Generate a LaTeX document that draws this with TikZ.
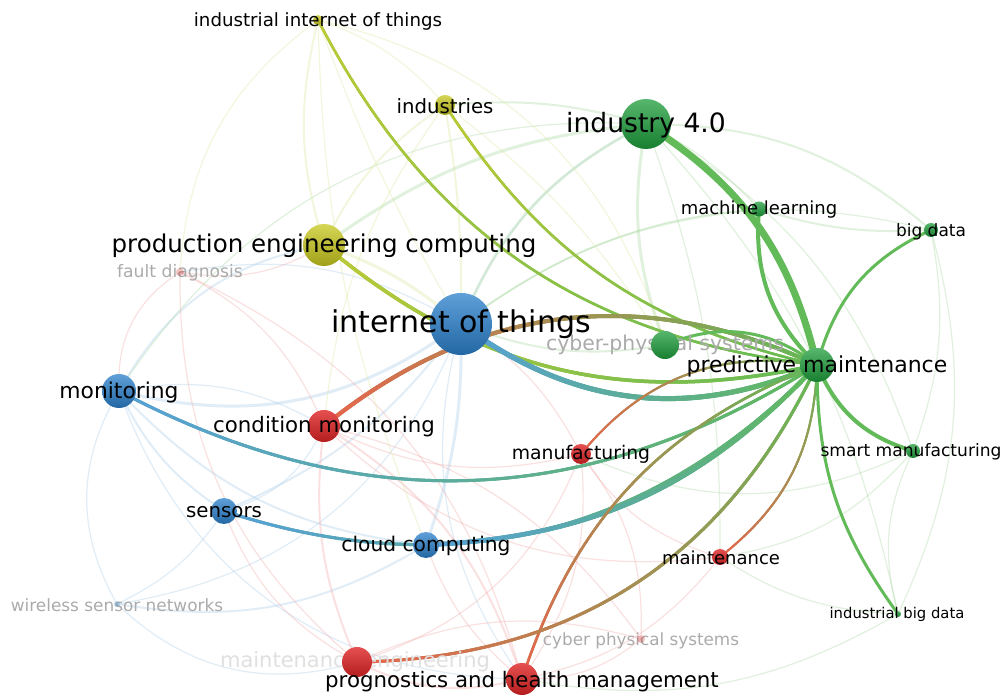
\documentclass[tikz,border=0pt]{standalone}
\usepackage{fontspec}
\setmainfont{DejaVu Sans}
\usetikzlibrary{decorations.markings}
\pgfdeclarelayer{bg}
\pgfdeclarelayer{mid}
\pgfsetlayers{bg,mid,main}
\definecolor{cyel}{HTML}{C8C81E}
\definecolor{cgrn}{HTML}{1E9E3C}
\definecolor{cblu}{HTML}{2A80CC}
\definecolor{cred}{HTML}{E02424}
\definecolor{ey}{HTML}{BCCA36}
\definecolor{eg}{HTML}{62BA58}
\definecolor{eb}{HTML}{56A0D8}
\definecolor{er}{HTML}{E8644C}
\definecolor{fblu}{HTML}{A8CCEA}
\definecolor{fred}{HTML}{F2A8A8}
\definecolor{fgrn}{HTML}{A8D8A0}
\definecolor{fyel}{HTML}{DCE8A0}
\definecolor{fadetxt}{HTML}{ABABAB}
\newcommand\fsz[1]{\fontsize{#1}{#1}\selectfont}
\tikzset{grad/.style n args={3}{postaction={decorate,decoration={markings,
  mark=between positions 0 and 1 step 2.5pt with {%
    \pgfmathtruncatemacro\gp{(\pgfkeysvalueof{/pgf/decoration/mark info/distance from start})/(\pgfdecoratedpathlength)*100}%
    \draw[line width=#3,color=#2!\gp!#1] (-1.5pt,0) -- (1.5pt,0);}}}}}
\begin{document}
\begin{tikzpicture}[x=1pt,y=1pt,
  kw/.style={circle,inner sep=0pt,minimum size=#1,draw=none},
  yel/.style={top color=cyel!75!white,bottom color=cyel!80!black},
  grn/.style={top color=cgrn!75!white,bottom color=cgrn!80!black},
  blu/.style={top color=cblu!75!white,bottom color=cblu!80!black},
  red/.style={top color=cred!80!white,bottom color=cred!80!black},
  lbl/.style={inner sep=0pt,anchor=center,text=black},
  flbl/.style={inner sep=0pt,anchor=center,text=fadetxt},
  e/.style={line cap=round},
  fe/.style={line cap=round,draw opacity=0.35,line width=1.2pt}]
\useasboundingbox (0,0) rectangle (1007,696);

% nodes (circles)
\node[kw=10pt,yel] (iiot) at (318,676) {};
\node[kw=20pt,yel] (ind) at (445,591) {};
\node[kw=50pt,grn] (i40) at (646,572) {};
\node[kw=15pt,grn] (ml) at (759,487) {};
\node[kw=14pt,grn] (bd) at (931,466) {};
\node[kw=42pt,yel] (pec) at (324,451) {};
\node[kw=8pt,red,opacity=0.3] (fd) at (180,424) {};
\node[kw=62pt,blu] (iot) at (461,372) {};
\node[kw=28pt,grn] (cps) at (665,351) {};
\node[kw=34pt,grn] (pm) at (817,331) {};
\node[kw=34pt,blu] (mon) at (119,305) {};
\node[kw=32pt,red] (cm) at (324,270) {};
\node[kw=20pt,red] (manu) at (581,242) {};
\node[kw=14pt,grn] (sm) at (913,245) {};
\node[kw=26pt,blu] (sen) at (224,185) {};
\node[kw=26pt,blu] (cc) at (426,151) {};
\node[kw=16pt,red] (maint) at (720,139) {};
\node[kw=6pt,blu,opacity=0.3] (wsn) at (117,92) {};
\node[kw=6pt,grn] (ibd) at (898,82) {};
\node[kw=8pt,red,opacity=0.3] (cpsb) at (641,57) {};
\node[kw=30pt,red] (me) at (357,34) {};
\node[kw=32pt,red] (phm) at (522,17) {};

\begin{pgfonlayer}{bg}
\fill[white] (0,0) rectangle (1007,696);
% faint blue
\draw[fe,fblu,line width=3pt] (iot.center) to[bend left=25] (mon.center);
\draw[fe,fblu,line width=2pt] (iot.center) to[bend left=15] (sen.center);
\draw[fe,fblu,line width=3pt] (iot.center) to[bend left=10] (cc.center);
\draw[fe,fblu] (iot.center) to[bend left=30] (wsn.center);
\draw[fe,fblu,line width=2pt] (mon.center) to[bend right=15] (sen.center);
\draw[fe,fblu] (mon.center) to[bend right=30] (wsn.center);
\draw[fe,fblu,line width=2pt] (mon.center) to[bend right=20] (cc.center);
\draw[fe,fblu] (sen.center) to[bend left=15] (wsn.center);
\draw[fe,fblu,line width=2pt] (cc.center) to[bend left=20] (wsn.center);
\draw[fe,fblu] (mon.center) to[bend left=20] (cm.center);
\draw[fe,fblu] (iot.center) to[bend right=20] (fd.center);
\draw[fe,fblu] (sen.center) to[bend right=25] (cm.center);
\draw[fe,fblu] (mon.center) to[bend right=35] (phm.center);
\draw[fe,fblu] (wsn.center) to[bend right=30] (me.center);
\draw[fe,fblu,line width=2pt] (mon.center) to[bend left=25] (pec.center);
\draw[fe,fblu] (iot.center) to[bend right=25] (phm.center);
\draw[fe,fblu] (iot.center) to[bend left=20] (i40.center);
% faint red
\draw[fe,fred,line width=2pt] (cm.center) to[bend left=20] (phm.center);
\draw[fe,fred,line width=2pt] (cm.center) to[bend right=15] (me.center);
\draw[fe,fred] (cm.center) to[bend right=20] (manu.center);
\draw[fe,fred] (cm.center) to[bend right=25] (maint.center);
\draw[fe,fred,line width=2pt] (phm.center) to[bend left=20] (me.center);
\draw[fe,fred] (phm.center) to[bend right=20] (manu.center);
\draw[fe,fred] (phm.center) to[bend right=20] (maint.center);
\draw[fe,fred] (me.center) to[bend left=25] (fd.center);
\draw[fe,fred] (fd.center) to[bend left=20] (cm.center);
\draw[fe,fred] (cpsb.center) to[bend left=20] (phm.center);
\draw[fe,fred] (cpsb.center) to[bend right=20] (manu.center);
\draw[fe,fred] (maint.center) to[bend left=20] (manu.center);
\draw[fe,fred] (fd.center) to[bend right=30] (mon.center);
\draw[fe,fred] (me.center) to[bend left=20] (sen.center);
\draw[fe,fred] (phm.center) to[bend left=15] (cc.center);
\draw[fe,fred] (fd.center) to[bend left=25] (phm.center);
\draw[fe,fred] (me.center) to[bend right=25] (manu.center);
\draw[fe,fred] (me.center) to[bend left=20] (cpsb.center);
\draw[fe,fred] (cm.center) to[bend left=20] (cpsb.center);
\draw[fe,fred] (fd.center) to[bend right=20] (pec.center);
\draw[fe,fred] (manu.center) to[bend right=15] (iot.center);
% faint green
\draw[fe,fgrn,line width=3pt] (i40.center) to[bend right=20] (iot.center);
\draw[fe,fgrn,line width=3pt] (i40.center) to[bend right=15] (pec.center);
\draw[fe,fgrn,line width=2pt] (i40.center) to[bend right=10] (ind.center);
\draw[fe,fgrn] (i40.center) to[bend left=10] (ml.center);
\draw[fe,fgrn,line width=2pt] (i40.center) to[bend left=20] (bd.center);
\draw[fe,fgrn,line width=3pt] (i40.center) to[bend right=15] (cps.center);
\draw[fe,fgrn] (i40.center) to[bend left=20] (sm.center);
\draw[fe,fgrn] (i40.center) to[bend left=15] (ibd.center);
\draw[fe,fgrn,line width=2pt] (ml.center) to[bend right=10] (bd.center);
\draw[fe,fgrn,line width=2pt] (ml.center) to[bend right=15] (iot.center);
\draw[fe,fgrn] (bd.center) to[bend left=15] (sm.center);
\draw[fe,fgrn] (bd.center) to[bend left=20] (ibd.center);
\draw[fe,fgrn] (sm.center) to[bend right=20] (ibd.center);
\draw[fe,fgrn,line width=2pt] (cps.center) to[bend left=15] (iot.center);
\draw[fe,fgrn] (sm.center) to[bend left=20] (maint.center);
\draw[fe,fgrn] (ibd.center) to[bend left=15] (maint.center);
\draw[fe,fgrn] (i40.center) to[bend right=30] (mon.center);
\draw[fe,fgrn] (ibd.center) to[bend left=20] (phm.center);
\draw[fe,fgrn] (i40.center) to[bend left=10] (maint.center);
\draw[fe,fgrn] (bd.center) to[bend right=25] (iot.center);
\draw[fe,fgrn] (sm.center) to[bend left=25] (manu.center);
% faint yellow
\draw[fe,fyel,line width=2pt] (iiot.center) to[bend right=15] (pec.center);
\draw[fe,fyel] (iiot.center) to[bend right=5] (iot.center);
\draw[fe,fyel,line width=2pt] (ind.center) to[bend right=15] (pec.center);
\draw[fe,fyel,line width=2pt] (ind.center) to[bend left=5] (iot.center);
\draw[fe,fyel,line width=3pt] (pec.center) to[bend left=10] (iot.center);
\draw[fe,fyel] (iiot.center) to[bend left=15] (ind.center);
\draw[fe,fyel] (iiot.center) to[bend right=25] (fd.center);
\draw[fe,fyel] (iiot.center) to[bend right=10] (cc.center);
\draw[fe,fyel] (ind.center) to[bend right=15] (cm.center);
\draw[fe,fyel] (iiot.center) to[bend left=30] (cps.center);
\draw[fe,fyel] (ind.center) to[bend left=10] (cps.center);

% strong edges (colour blends from source cluster to target cluster)
\draw[e,ey!70!eg,line width=2.5pt,grad={ey}{eg}{2.5pt}] (iiot.center) to[bend right=28] (pm.center);
\draw[e,ey!70!eg,line width=2.5pt,grad={ey}{eg}{2.5pt}] (ind.center) to[bend right=22] (pm.center);
\draw[e,ey!60!eg,line width=3.5pt,grad={ey}{eg}{3.5pt}] (pec.center) to[bend right=26] (pm.center);
\draw[e,eb!50!eg,line width=5pt,grad={eb}{eg}{5pt}] (iot.center) to[bend right=30] (pm.center);
\draw[e,er!50!eg,line width=4pt,grad={er}{eg}{4pt}] (cm.center) to[bend left=32] (pm.center);
\draw[e,eb!50!eg,line width=3pt,grad={eb}{eg}{3pt}] (mon.center) to[bend right=30] (pm.center);
\draw[e,eb!50!eg,line width=3pt,grad={eb}{eg}{3pt}] (sen.center) to[bend right=32] (pm.center);
\draw[e,eb!50!eg,line width=4.5pt,grad={eb}{eg}{4.5pt}] (cc.center) to[bend right=22] (pm.center);
\draw[e,er!50!eg,line width=2pt,grad={er}{eg}{2pt}] (manu.center) to[bend left=30] (pm.center);
\draw[e,er!50!eg,line width=2pt,grad={er}{eg}{2pt}] (maint.center) to[bend right=25] (pm.center);
\draw[e,er!50!eg,line width=2.5pt,grad={er}{eg}{2.5pt}] (phm.center) to[bend left=25] (pm.center);
\draw[e,er!50!eg,line width=3pt,grad={er}{eg}{3pt}] (me.center) to[bend right=32] (pm.center);
\draw[e,eg,line width=7pt] (i40.center) to[bend left=22] (pm.center);
\draw[e,eg,line width=4pt] (ml.center) to[bend right=25] (pm.center);
\draw[e,eg,line width=3pt] (bd.center) to[bend right=25] (pm.center);
\draw[e,eg,line width=4pt] (sm.center) to[bend left=25] (pm.center);
\draw[e,eg,line width=3pt] (ibd.center) to[bend left=18] (pm.center);
\draw[e,eg,line width=3pt] (cps.center) to[bend left=30] (pm.center);
\end{pgfonlayer}

% faded labels
\begin{pgfonlayer}{mid}
\node[flbl,font=\fsz{17.2}] (fd-t) at (180,423) {fault diagnosis};
\node[flbl,font=\fsz{20.4}] (cps-t) at (665,351) {cyber-physical systems};
\node[flbl,font=\fsz{16.9}] (wsn-t) at (117,91) {wireless sensor networks};
\node[flbl,font=\fsz{16.8}] (cpsb-t) at (641,55) {cyber physical systems};
\node[inner sep=0pt,anchor=center,text=black!12,font=\fsz{21}] (me-t) at (355,34) {maintenance engineering};
\end{pgfonlayer}

% labels
\node[lbl,font=\fsz{18.2}] (iiot-t) at (318,675) {industrial internet of things};
\node[lbl,font=\fsz{19.7}] (ind-t) at (445,590) {industries};
\node[lbl,font=\fsz{26.6}] (i40-t) at (646,571) {industry 4.0};
\node[lbl,font=\fsz{18}] (ml-t) at (759,486) {machine learning};
\node[lbl,font=\fsz{17}] (bd-t) at (931,464) {big data};
\node[lbl,font=\fsz{24.5}] (pec-t) at (324,450) {production engineering computing};
\node[lbl,font=\fsz{30}] (iot-t) at (461,372) {internet of things};
\node[lbl,font=\fsz{22}] (pm-t) at (817,330) {predictive maintenance};
\node[lbl,font=\fsz{21.8}] (mon-t) at (119,304) {monitoring};
\node[lbl,font=\fsz{21.3}] (cm-t) at (324,269) {condition monitoring};
\node[lbl,font=\fsz{18.8}] (manu-t) at (581,242) {manufacturing};
\node[lbl,font=\fsz{17.1}] (sm-t) at (911,244) {smart manufacturing};
\node[lbl,font=\fsz{19.8}] (sen-t) at (224,184) {sensors};
\node[lbl,font=\fsz{20.2}] (cc-t) at (426,150) {cloud computing};
\node[lbl,font=\fsz{18}] (maint-t) at (721,138) {maintenance};
\node[lbl,font=\fsz{14.8}] (ibd-t) at (897,82) {industrial big data};
\node[lbl,font=\fsz{21.3}] (phm-t) at (522,14) {prognostics and health management};
\end{tikzpicture}
\end{document}
